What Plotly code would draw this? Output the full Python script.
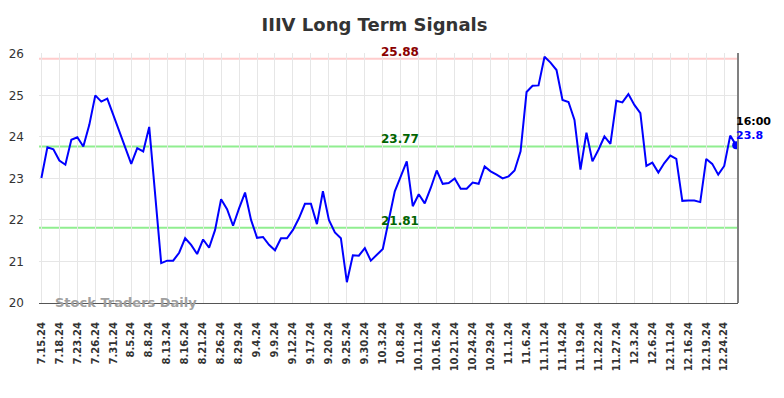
import plotly.graph_objects as go

dates = [
    "7.15.24", "7.16.24", "7.17.24", "7.18.24", "7.19.24", "7.22.24", "7.23.24", "7.24.24", "7.25.24", "7.26.24",
    "7.29.24", "7.30.24", "7.31.24", "8.1.24", "8.2.24", "8.5.24", "8.6.24", "8.7.24", "8.8.24", "8.9.24",
    "8.12.24", "8.13.24", "8.14.24", "8.15.24", "8.16.24", "8.19.24", "8.20.24", "8.21.24", "8.22.24", "8.23.24",
    "8.26.24", "8.27.24", "8.28.24", "8.29.24", "8.30.24", "9.3.24", "9.4.24", "9.5.24", "9.6.24", "9.9.24",
    "9.10.24", "9.11.24", "9.12.24", "9.13.24", "9.16.24", "9.17.24", "9.18.24", "9.19.24", "9.20.24", "9.23.24",
    "9.24.24", "9.25.24", "9.26.24", "9.27.24", "9.30.24", "10.1.24", "10.2.24", "10.3.24", "10.4.24", "10.7.24",
    "10.8.24", "10.9.24", "10.10.24", "10.11.24", "10.14.24", "10.15.24", "10.16.24", "10.17.24", "10.18.24", "10.21.24",
    "10.22.24", "10.23.24", "10.24.24", "10.25.24", "10.28.24", "10.29.24", "10.30.24", "10.31.24", "11.1.24", "11.4.24",
    "11.5.24", "11.6.24", "11.7.24", "11.8.24", "11.11.24", "11.12.24", "11.13.24", "11.14.24", "11.15.24", "11.18.24",
    "11.19.24", "11.20.24", "11.21.24", "11.22.24", "11.25.24", "11.26.24", "11.27.24", "11.29.24", "12.2.24", "12.3.24",
    "12.4.24", "12.5.24", "12.6.24", "12.9.24", "12.10.24", "12.11.24", "12.12.24", "12.13.24", "12.16.24", "12.17.24",
    "12.18.24", "12.19.24", "12.20.24", "12.23.24", "12.24.24", "12.26.24", "12.27.24",
]

close = [
    23.01, 23.75, 23.70, 23.43, 23.33, 23.93, 23.99, 23.77, 24.29, 25.00,
    24.85, 24.92, 24.53, 24.13, 23.75, 23.35, 23.73, 23.65, 24.24, 22.60,
    20.96, 21.02, 21.02, 21.21, 21.56, 21.40, 21.18, 21.53, 21.33, 21.76,
    22.50, 22.26, 21.86, 22.28, 22.66, 22.00, 21.57, 21.59, 21.40, 21.27,
    21.56, 21.56, 21.76, 22.04, 22.39, 22.39, 21.90, 22.69, 22.00, 21.70,
    21.56, 20.50, 21.15, 21.14, 21.32, 21.02, 21.16, 21.30, 22.00, 22.69,
    23.05, 23.41, 22.33, 22.62, 22.40, 22.77, 23.19, 22.87, 22.89, 23.00,
    22.75, 22.75, 22.90, 22.87, 23.29, 23.17, 23.09, 23.00, 23.05, 23.19,
    23.65, 25.08, 25.23, 25.24, 25.93, 25.79, 25.61, 24.89, 24.84, 24.41,
    23.21, 24.10, 23.41, 23.69, 24.01, 23.83, 24.87, 24.83, 25.03, 24.77,
    24.57, 23.30, 23.38, 23.14, 23.37, 23.55, 23.47, 22.46, 22.47, 22.47,
    22.43, 23.47, 23.35, 23.09, 23.30, 24.03, 23.80,
]

tick_labels = dates[::3]
y_ticks = [20, 21, 22, 23, 24, 25, 26]
red_levels = [25.88]
green_levels = [23.77, 21.81]
last_time = "16:00"
title_text = "IIIV Long Term Signals"
watermark = "Stock Traders Daily"

FONT = "DejaVu Sans"
# the page body has an 8px margin; figure sized/positioned to compensate
W, H = 768, 382
L, T, PW, PH = 31, 45, 699, 250

fig = go.Figure()
fig.add_trace(go.Scatter(
    x=dates, y=close, mode="lines",
    line=dict(color="#0000ff", width=2),
    hoverinfo="skip", showlegend=False,
))
fig.add_trace(go.Scatter(
    x=[dates[-1]], y=[close[-1]], mode="markers",
    marker=dict(color="#0000ff", size=8),
    hoverinfo="skip", showlegend=False,
))

label_x = 59.8
for v in red_levels:
    fig.add_shape(type="line", xref="paper", x0=0, x1=1, yref="y", y0=v, y1=v,
                  line=dict(color="#ffcccc", width=2), layer="below")
    fig.add_annotation(x=label_x, y=v, xref="x", yref="y", text=f"<b>{v:.2f}</b>",
                       showarrow=False, yanchor="bottom", yshift=-2,
                       font=dict(family=FONT, size=12, color="#8b0000"))
for v in green_levels:
    fig.add_shape(type="line", xref="paper", x0=0, x1=1, yref="y", y0=v, y1=v,
                  line=dict(color="#90ee90", width=2), layer="below")
    fig.add_annotation(x=label_x, y=v, xref="x", yref="y", text=f"<b>{v:.2f}</b>",
                       showarrow=False, yanchor="bottom", yshift=-2,
                       font=dict(family=FONT, size=12, color="#006400"))

# right border line
fig.add_shape(type="line", xref="paper", x0=1, x1=1, yref="paper", y0=0, y1=1,
              line=dict(color="#808080", width=2))

# last value labels
fig.add_annotation(x=dates[-1], y=close[-1], xref="x", yref="y", text=f"<b>{last_time}</b>",
                   showarrow=False, xanchor="left", yanchor="middle", xshift=-2, yshift=24,
                   font=dict(family=FONT, size=11, color="#000000"))
fig.add_annotation(x=dates[-1], y=close[-1], xref="x", yref="y", text=f"<b>{close[-1]}</b>",
                   showarrow=False, xanchor="left", yanchor="middle", xshift=-2, yshift=10,
                   font=dict(family=FONT, size=11, color="#0000ff"))

# watermark (viewport centre ~ (126, 302))
fig.add_annotation(x=(126 - 8 - L) / PW, y=(T + PH - (302 - 8)) / PH, xref="paper", yref="paper",
                   text=f"<b>{watermark}</b>",
                   showarrow=False, xanchor="center", yanchor="middle",
                   font=dict(family=FONT, size=13, color="#a0a0a0"))

fig.update_layout(
    width=W, height=H,
    margin=dict(l=L, r=W - L - PW, t=T, b=H - T - PH, pad=0),
    paper_bgcolor="white", plot_bgcolor="white",
    title=dict(text=f"<b>{title_text}</b>", x=(374.5 - 8) / W, xanchor="center",
               y=1 - (25 - 8) / H, yanchor="middle", yref="container",
               font=dict(family=FONT, size=18, color="#333333")),
    font=dict(family=FONT),
    showlegend=False,
)
fig.update_xaxes(
    type="category", categoryorder="array", categoryarray=dates,
    range=[-0.4, 116.3],
    tickmode="array", tickvals=tick_labels, ticktext=[f"<b>{t}</b>" for t in tick_labels],
    tickangle=-90, tickfont=dict(family=FONT, size=10, color="#333333"),
    ticks="", ticklabelstandoff=14,
    showgrid=True, gridcolor="#e6e6e6", gridwidth=1,
    showline=True, linecolor="#555555", linewidth=1,
    zeroline=False, automargin=False,
)
fig.update_yaxes(
    range=[20, 26.02],
    tickmode="array", tickvals=y_ticks, ticktext=[str(t) for t in y_ticks],
    tickfont=dict(family=FONT, size=12, color="#333333"),
    ticks="", ticklabelstandoff=14,
    showgrid=True, gridcolor="#e6e6e6", gridwidth=1,
    showline=False, zeroline=False, automargin=False,
)

fig.write_html("out.html")
